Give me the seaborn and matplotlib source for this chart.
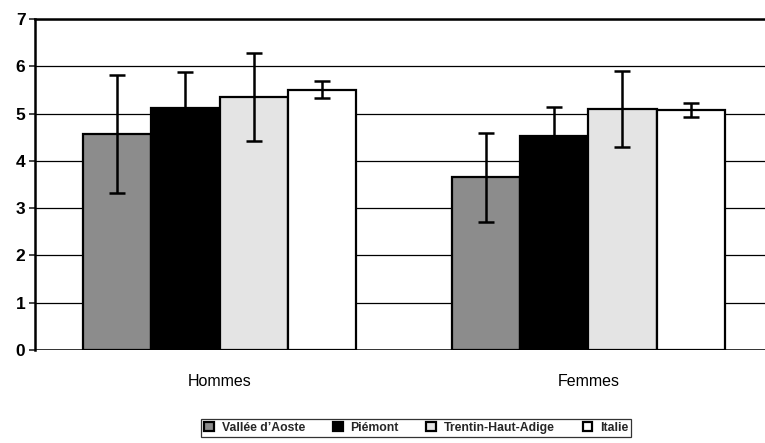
import matplotlib
matplotlib.use("Agg")
import matplotlib.pyplot as plt
import pandas as pd
import seaborn as sns

sexes = ["Hommes", "Femmes"]
regions = ["Vallée d’Aoste", "Piémont", "Trentin-Haut-Adige", "Italie"]
# mean values per region, for Hommes then Femmes
values_hommes = [4.57, 5.12, 5.35, 5.50]
values_femmes = [3.65, 4.52, 5.10, 5.07]
# half length of error bars
err_hommes = [1.25, 0.75, 0.93, 0.18]
err_femmes = [0.95, 0.63, 0.81, 0.15]

colors = ["#8c8c8c", "#000000", "#e4e4e4", "#ffffff"]

sns.set_style("white")
plt.rcParams['font.family'] = ['Liberation Sans', 'DejaVu Sans']

df = pd.DataFrame({
    "sexe": [s for s in sexes for _ in regions],
    "region": regions * 2,
    "valeur": values_hommes + values_femmes,
    "err": err_hommes + err_femmes,
})

fig = plt.figure(figsize=(7.65, 4.43), dpi=100)
ax = fig.add_axes([0.046, 0.21, 0.964, 0.747])

sns.barplot(data=df, x="sexe", y="valeur", hue="region", order=sexes, hue_order=regions,
            palette=colors, width=0.74, errorbar=None, edgecolor="black", linewidth=1.6,
            saturation=1, ax=ax)

bar_conts = list(ax.containers)

### error bars drawn at the bar centres
for cont, reg in zip(bar_conts, regions):
    sub = df[df["region"] == reg].set_index("sexe").loc[sexes]
    xs = [b.get_x() + b.get_width() / 2 for b in cont]
    ax.errorbar(xs, sub["valeur"], yerr=sub["err"], fmt="none", ecolor="black",
                elinewidth=1.8, capsize=6, capthick=1.8, zorder=5)

ax.set_ylim(0, 7)
ax.set_xlim(-0.5, 1.5)
ax.set_yticks(range(0, 8))
ax.yaxis.grid(True, color="black", linewidth=0.9)
ax.set_axisbelow(True)
ax.set_xlabel("")
ax.set_ylabel("")
for side in ["right", "bottom"]:
    ax.spines[side].set_visible(False)
ax.spines["left"].set_linewidth(1.8)
ax.spines["left"].set_color("black")
ax.spines["top"].set_linewidth(1.8)
ax.spines["top"].set_color("black")
ax.axhline(0, color="black", linewidth=1.8)
ax.tick_params(axis="y", left=True, length=4, width=1.2, labelsize=12.5, pad=3, labelcolor="black")
ax.tick_params(axis="x", bottom=False, labelsize=11.5, pad=14, labelcolor="black")
for lab in ax.get_yticklabels():
    lab.set_fontweight("bold")

handles = [c.patches[0] for c in bar_conts]
ax.get_legend().remove()
leg = fig.legend(handles, regions, loc="center", bbox_to_anchor=(0.544, 0.034), ncol=4,
                 frameon=True, fancybox=False, edgecolor="black", handlelength=0.8,
                 handleheight=0.8, columnspacing=2.3, handletextpad=0.6, borderpad=0.25,
                 prop={"weight": "bold", "size": 8.8})
leg.get_frame().set_linewidth(0.9)

fig.savefig("out.png", dpi=100)
